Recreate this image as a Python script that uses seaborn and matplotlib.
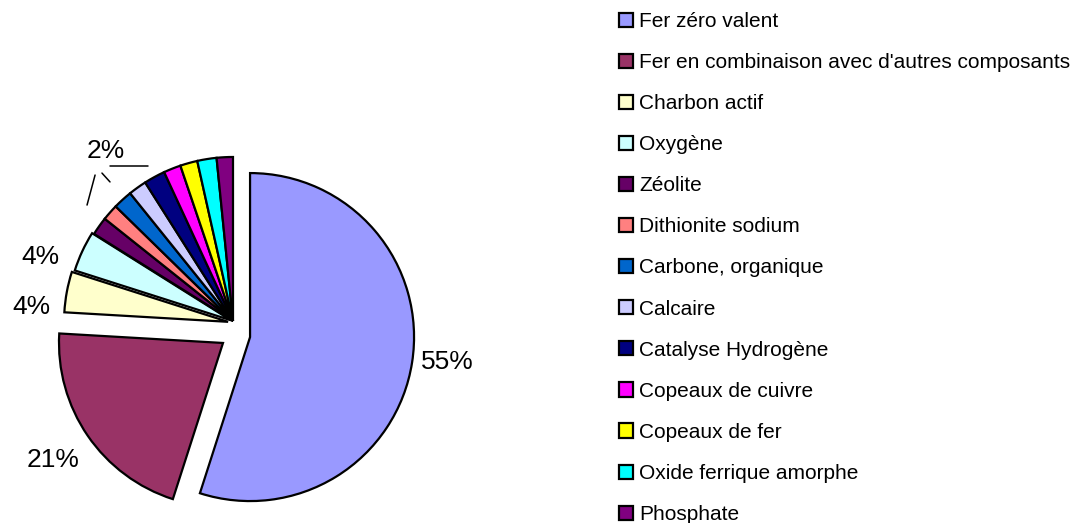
import numpy as np
import pandas as pd
import matplotlib
matplotlib.use("Agg")
import matplotlib.pyplot as plt
import seaborn as sns

# composants utilises (part en %)
composants = ["Fer zéro valent", "Fer en combinaison avec d'autres composants",
              "Charbon actif", "Oxygène", "Zéolite", "Dithionite sodium",
              "Carbone, organique", "Calcaire", "Catalyse Hydrogène",
              "Copeaux de cuivre", "Copeaux de fer", "Oxide ferrique amorphe",
              "Phosphate"]
parts = [55, 21, 4, 4, 1.8, 1.6, 1.9, 1.8, 2.1, 1.7, 1.7, 1.9, 1.6]
couleurs = ["#9999FF", "#993366", "#FFFFCC", "#CCFFFF", "#660066", "#FF8080",
            "#0066CC", "#CCCCFF", "#000080", "#FF00FF", "#FFFF00", "#00FFFF",
            "#800080"]
etiquettes = ["55%", "21%", "4%", "4%", "2%"]

df = pd.DataFrame({"composant": composants, "part": parts})

sns.set_theme(style="white")
plt.rcParams['font.family'] = ['Liberation Sans', 'DejaVu Sans']
plt.rcParams['text.color'] = 'black'

W, H = 1086, 523
fig = plt.figure(figsize=(W / 100, H / 100), dpi=100)
R = 164.0
cx, cy = 233, 321
span = 2.84
ax = fig.add_axes([0, 0, span * R / W, span * R / H])

wedges, _ = ax.pie(df["part"], colors=sns.color_palette(couleurs),
                   startangle=90, counterclock=False, radius=1,
                   wedgeprops=dict(edgecolor="black", linewidth=1.6))

# parts detachees (decalage en rayon)
decalage = {0: (0.104, -0.098), 1: (-0.061, -0.134), 2: (-0.03, -0.005), 3: (-0.012, 0.004)}
for i, (dx, dy) in decalage.items():
    wedges[i].set_center((dx, dy))

x0 = -cx / R
y0 = -(H - cy) / R
ax.set_xlim(x0, x0 + span)
ax.set_ylim(y0, y0 + span)
ax.set_aspect('equal')
ax.axis('off')

# etiquettes de pourcentage
pos_lab = [(1.305, -0.25), (-1.098, -0.848), (-1.226, 0.085), (-1.177, 0.390), (-0.774, 1.037)]
for txt, (x, y) in zip(etiquettes, pos_lab):
    ax.text(x, y, txt, fontsize=19, ha="center", va="center", color="black")

# lignes de rappel pour le 2%
ax.plot([-0.890, -0.841], [0.707, 0.890], color="black", lw=1.1)
ax.plot([-0.799, -0.750], [0.902, 0.848], color="black", lw=1.1)
ax.plot([-0.750, -0.518], [0.945, 0.945], color="black", lw=1.1)

fig.legend(wedges, composants, loc="upper left",
           bbox_to_anchor=(619 / W, 1 - 12 / H), frameon=False,
           fontsize=15, handlelength=0.67, handleheight=0.67,
           handletextpad=0.3, labelspacing=1.06, borderpad=0, borderaxespad=0)

fig.savefig("out.png", dpi=100)
